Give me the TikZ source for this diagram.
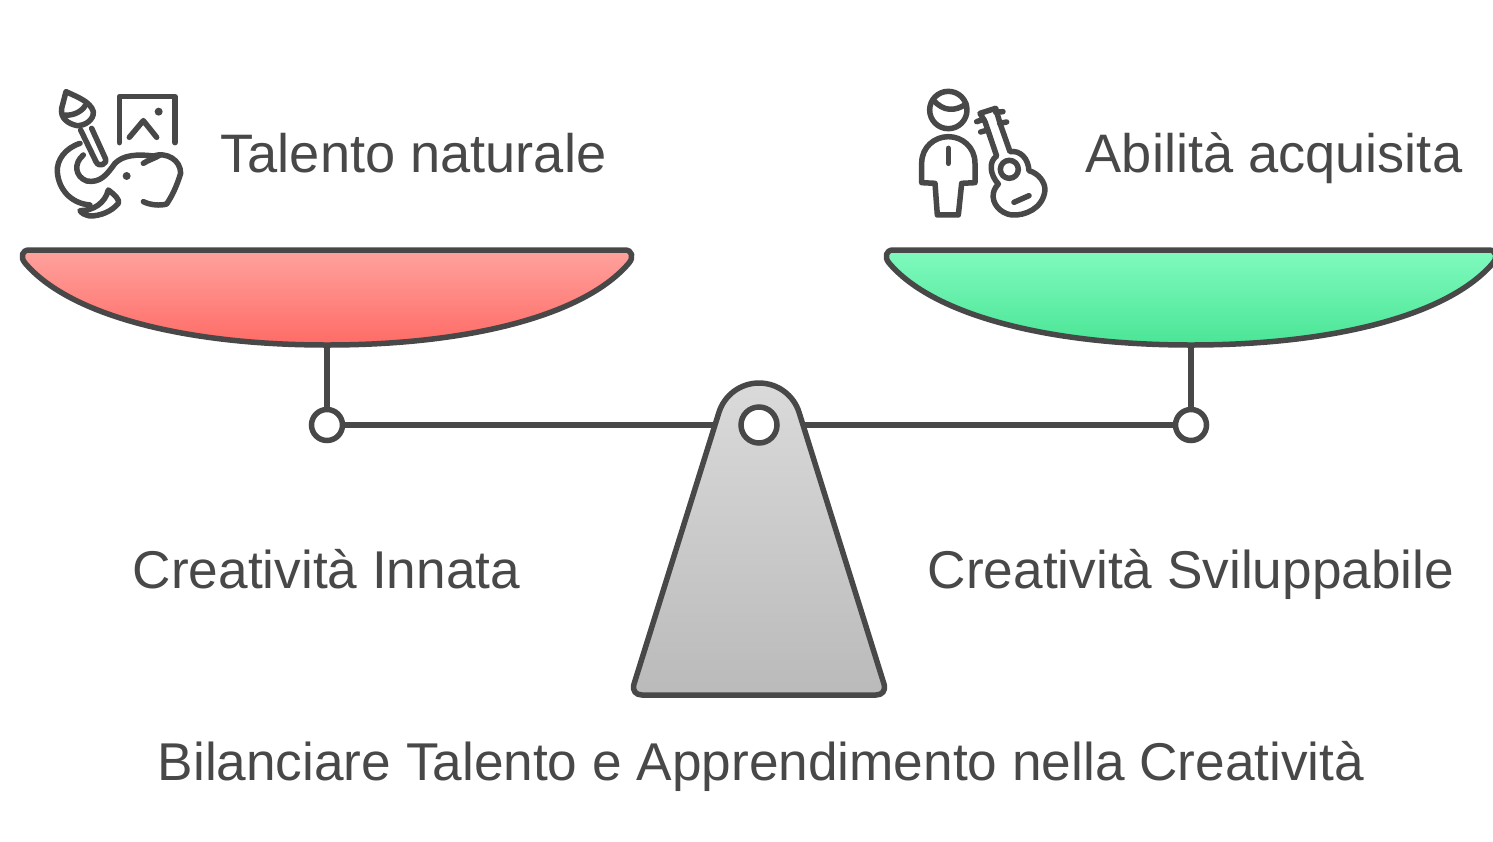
\documentclass[tikz,border=0pt]{standalone}
\usepackage{fontspec}
\setmainfont{Liberation Sans}
\usepackage{xcolor}
\usetikzlibrary{positioning,calc}
\definecolor{ink}{HTML}{484848}
\tikzset{
  line/.style={draw=ink,line width=5.5pt,line join=round,line cap=round},
  ring/.style={circle,draw=ink,line width=5.5pt,fill=white,inner sep=0pt},
  label/.style={text=ink,font=\fontsize{53.2}{54}\selectfont,inner sep=0pt,anchor=base},
  headlabel/.style={label,font=\fontsize{54.2}{55}\selectfont},
  icon/.style={x=0.3333pt,y=-0.3333pt},
}

\begin{document}
\begin{tikzpicture}[x=1pt,y=-1pt]
\useasboundingbox (0,0) rectangle (1493,841);
\fill[white] (0,0) rectangle (1493,841);

% Beam and hangers
\coordinate (pivot) at (759,425);
\coordinate (panL) at (327,345);
\coordinate (panR) at (1191,345);
\node[ring,minimum size=31pt] (jointL) at (327,425) {};
\node[ring,minimum size=31pt] (jointR) at (1191,425) {};
\draw[line] (jointL) -- (pivot);
\draw[line] (jointR) -- (pivot);
\draw[line] (panL) -- (jointL);
\draw[line] (panR) -- (jointR);

% Left pan
\draw[line,top color={rgb,255:red,255;green,162;blue,158},bottom color={rgb,255:red,255;green,107;blue,101}]
  (29,250) -- (625,250) .. controls (632,250) and (634,257) .. (629,263)
  .. controls (585,315) and (470,345) .. (327,345)
  .. controls (184,345) and (69,315) .. (25,263)
  .. controls (20,257) and (22,250) .. (29,250) -- cycle;
% Right pan
\begin{scope}[shift={(864,0)}]
\draw[line,top color={rgb,255:red,128;green,250;blue,190},bottom color={rgb,255:red,74;green,229;blue,150}]
  (29,250) -- (625,250) .. controls (632,250) and (634,257) .. (629,263)
  .. controls (585,315) and (470,345) .. (327,345)
  .. controls (184,345) and (69,315) .. (25,263)
  .. controls (20,257) and (22,250) .. (29,250) -- cycle;
\end{scope}

% Stand
\draw[line,top color={rgb,255:red,218;green,218;blue,218},bottom color={rgb,255:red,186;green,186;blue,186}]
  (718.8,412.8) .. controls (724.2,395.1) and (740.5,383) .. (759,383)
  .. controls (777.5,383) and (793.8,395.1) .. (799.2,412.8)
  -- (884,684) .. controls (886,691) and (882,695) .. (876,695)
  -- (642,695) .. controls (636,695) and (632,691) .. (634,684) -- cycle;
\node[ring,minimum size=36pt] (hole) at (pivot) {};

% Labels
\node[headlabel] (talent) at (413.5,172.5) {Talento naturale};
\node[headlabel] (skill) at (1274,172.5) {Abilità acquisita};
\node[label] (innate) at (326.5,588.5) {Creatività Innata};
\node[label] (grown) at (1191,588.5) {Creatività Sviluppabile};
\node[label] (title) at (761,780.5) {Bilanciare Talento e Apprendimento nella Creatività};

% Icon: brush, picture, elephant
\begin{scope}[shift={(40,80)},icon]
\draw[line] (78,35) .. controls (110,50) and (152,65) .. (160,95)
  .. controls (162,120) and (135,137) .. (112,137)
  .. controls (85,132) and (60,115) .. (65,85) -- cycle;
\draw[line] (72,105) .. controls (95,108) and (122,98) .. (135,78);
\draw[line] (122,150) -- (168,245) .. controls (176,264) and (204,252) .. (196,235) -- (155,145);
\draw[line] (238,188) -- (238,50) -- (405,50) -- (405,188);
\draw[line] (268,172) -- (310,122) -- (350,172);
\fill[ink] (356,95) circle (12);
\draw[line] (120,190) .. controls (75,205) and (50,240) .. (52,275)
  .. controls (55,325) and (90,370) .. (150,375);
\draw[line] (130,225) .. controls (100,250) and (105,290) .. (140,303)
  .. controls (180,310) and (200,285) .. (225,250)
  .. controls (250,225) and (290,222) .. (340,228)
  .. controls (380,215) and (422,240) .. (422,280)
  .. controls (410,320) and (395,350) .. (380,372)
  .. controls (360,378) and (330,375) .. (310,365);
\draw[line] (310,250) .. controls (325,240) and (345,235) .. (360,225);
\fill[ink] (260,288) circle (12);
\draw[line] (120,392) .. controls (160,392) and (195,370) .. (205,330)
  .. controls (225,345) and (240,360) .. (235,370)
  .. controls (215,395) and (180,408) .. (150,408)
  .. controls (135,405) and (125,400) .. (120,392) -- cycle;
\end{scope}

% Icon: person with guitar
\begin{scope}[shift={(905,80)},icon]
\draw[line] (130,90) circle (56);
\draw[line] (85,60) .. controls (115,95) and (150,95) .. (183,72);
\draw[line] (130,205) -- (130,250);
\draw[line] (50,308) -- (50,250) .. controls (50,200) and (90,170) .. (130,170)
  .. controls (170,170) and (210,200) .. (210,250) -- (210,308) -- (170,310)
  -- (160,405) -- (97,405) -- (90,310) -- cycle;
\draw[line] (225,100) -- (272,85) -- (285,130) -- (315,215)
  .. controls (345,210) and (370,235) .. (372,272)
  .. controls (400,280) and (420,305) .. (420,330)
  .. controls (415,385) and (360,408) .. (320,405)
  .. controls (285,400) and (260,370) .. (265,340)
  .. controls (268,325) and (275,318) .. (280,312)
  .. controls (255,285) and (250,245) .. (275,228) -- (240,125) -- cycle;
\draw[line] (313,268) circle (27);
\draw[line] (327,367) -- (372,347);
\draw[line] (215,125) -- (236,118);
\draw[line] (227,156) -- (248,150);
\draw[line] (272,97) -- (294,95);
\draw[line] (284,130) -- (305,126);
\end{scope}
\end{tikzpicture}
\end{document}
